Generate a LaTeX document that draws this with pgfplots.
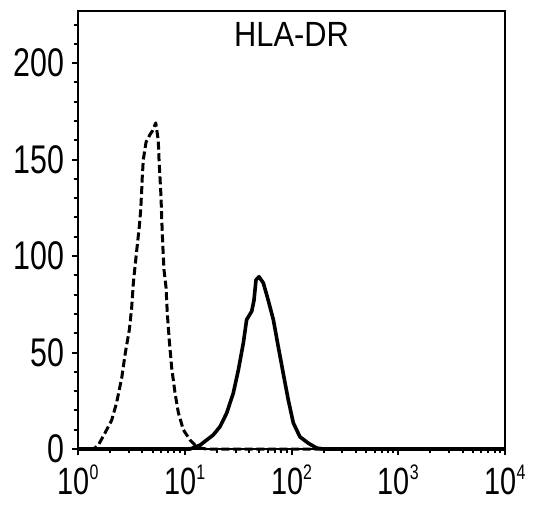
\documentclass[border=0pt]{standalone}
\usepackage{fontspec}
\setmainfont{Liberation Sans}
\newfontfamily\tickfont{Liberation Sans}[FakeStretch=0.76]
\newfontfamily\titlefont{Liberation Sans}[FakeStretch=0.88]
\usepackage{pgfplots}
\pgfplotsset{compat=1.18}
\newcommand\pw[1]{10\raisebox{7.5pt}{\fontsize{10.5}{10.5}\selectfont #1}}
\begin{document}
\begin{tikzpicture}
\begin{axis}[
  name=ax, at={(0,0)}, anchor=south west,
  scale only axis, width=213.5pt, height=219pt,
  xmode=log, log basis x=10,
  xmin=1, xmax=10000, ymin=0, ymax=227,
  axis line style={line width=1.1pt},
  tick style={line width=1pt, black},
  tick align=outside,
  xtick pos=bottom, ytick pos=left,
  major tick length=3.2pt, minor tick length=2.2pt,
  xtick={1,10,100,1000,10000},
  xticklabels={\pw{0},\pw{1},\pw{2},\pw{3},\pw{4}},
  minor xtick={2,3,4,5,6,7,8,9,20,30,40,50,60,70,80,90,200,300,400,500,600,700,800,900,2000,3000,4000,5000,6000,7000,8000,9000},
  ytick={0,50,100,150,200},
  minor ytick={10,20,30,40,60,70,80,90,110,120,130,140,160,170,180,190,210,220},
  /pgf/number format/assume math mode=true,
  xticklabel style={font=\fontsize{19}{19}\tickfont, inner sep=0pt, anchor=north, yshift=-4.5pt},
  yticklabel style={font=\fontsize{20}{20}\tickfont, inner sep=0pt, anchor=east, xshift=-3.5pt},
  clip=false,
]
\addplot[black, line width=1.5pt, dash pattern=on 4pt off 1.8pt, line join=round] coordinates {
(1,0) (1.4,0) (1.55,2) (1.79,8.3) (2.07,15) (2.30,24) (2.57,37) (2.76,49) (3.03,62) (3.18,73) (3.30,86) (3.37,91) (3.55,103) (3.75,115) (3.87,124) (3.95,134) (4.00,141) (4.09,150) (4.34,159) (4.73,163) (5.0,165) (5.35,169) (5.65,160) (5.74,150) (5.86,141) (5.99,131) (6.08,120) (6.21,107) (6.39,93) (6.67,84) (6.87,70) (7.17,56) (7.55,42) (8.11,29) (8.70,19) (9.69,10) (11.2,4.7) (12.5,2) (14,0.5) (16,0) (10000,0)
};
\addplot[black, line width=1.8pt, line join=round] coordinates {
(1,0) (11.2,0) (13.9,2) (18.5,7.3) (21.4,11.6) (24.7,18.6) (28.5,29) (31.8,41) (35.4,55) (38.0,67) (42.4,71.4) (44.5,77) (46.5,87.6) (49.6,89.3) (54.5,86) (60.6,77) (67.6,67) (75.2,53) (83.8,39) (93.3,25.4) (104,13.5) (120,6.3) (144,3) (172,0.5) (200,0) (10000,0)
};
\node[anchor=north, inner sep=0pt, yshift=-5.5pt, font=\fontsize{17.5}{17.5}\titlefont] at (rel axis cs:0.5,1) {HLA-DR};
\end{axis}
\pgfresetboundingbox
\path[use as bounding box] (-39pt,-28pt) rectangle (233pt,224.5pt);
\end{tikzpicture}
\end{document}
